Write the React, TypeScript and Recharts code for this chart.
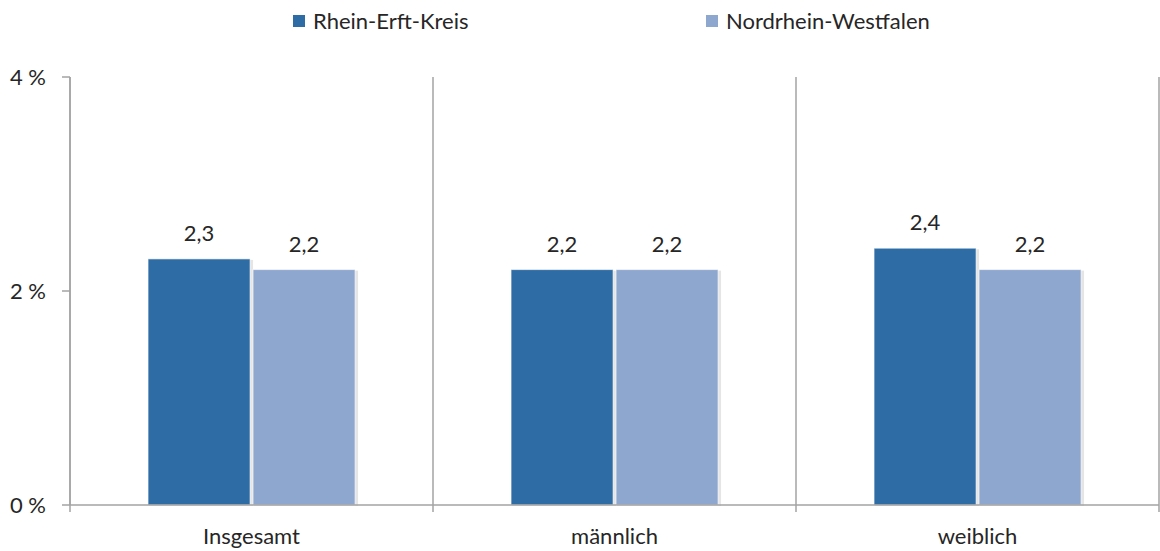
import React from "react";
import {
  Bar,
  BarChart,
  CartesianGrid,
  LabelList,
  XAxis,
  YAxis,
} from "recharts";

const categories = ["Insgesamt", "männlich", "weiblich"];
const rheinErft = [2.3, 2.2, 2.4];
const nrw = [2.2, 2.2, 2.2];
const yTicks = [0, 2, 4];
const legendItems = ["Rhein-Erft-Kreis", "Nordrhein-Westfalen"];

const DARK = "#2E6CA5";
const LIGHT = "#8EA7CF";
const AXIS = "#A3A3A3";
const TEXT = "#262626";
const FONT = "Lato, 'Open Sans', sans-serif";
const FS = 22;

const data = categories.map((name, i) => ({
  name,
  rek: rheinErft[i],
  nrw: nrw[i],
}));

const fmt = (v: number) => v.toFixed(1).replace(".", ",");

function ShadowBar(props: any) {
  const { x, y, width, height, fill } = props;
  if (!height || height <= 0) return null;
  return (
    <g>
      <rect x={x + 1} y={y + 1} width={width + 2} height={height} fill="#000" opacity={0.1} />
      <rect x={x} y={y} width={width} height={height} fill={fill} stroke="#ffffff" strokeOpacity={0.6} strokeWidth={1} />
    </g>
  );
}

// category label plus the small tick marks below the axis at band edges
function CategoryTick(props: any) {
  const { x, y, payload, index, visibleTicksCount } = props;
  const half = payload.offset ?? 0;
  const isLast = index === visibleTicksCount - 1;
  return (
    <g>
      <line x1={x - half} x2={x - half} y1={y} y2={y + 7} stroke={AXIS} strokeWidth={1.5} />
      {isLast && (
        <line x1={x + half} x2={x + half} y1={y} y2={y + 7} stroke={AXIS} strokeWidth={1.5} />
      )}
      <text x={x} y={y + 39} textAnchor="middle" fill={TEXT} fontSize={FS} fontFamily={FONT}>
        {payload.value}
      </text>
    </g>
  );
}

export default function App() {
  const colors = [DARK, LIGHT];
  return (
    <div style={{ position: "absolute", left: 0, top: 0, width: 1160, height: 551, background: "#fff" }}>
      <div
        style={{
          position: "absolute",
          top: 6,
          left: 293,
          display: "flex",
          fontFamily: FONT,
          fontSize: FS,
          color: TEXT,
          lineHeight: "30px",
        }}
      >
        {legendItems.map((label, i) => (
          <div key={label} style={{ display: "flex", alignItems: "center", width: i === 0 ? 413 : "auto" }}>
            <span
              style={{
                display: "inline-block",
                width: 12,
                height: 12,
                background: colors[i],
                marginRight: 8,
              }}
            />
            {label}
          </div>
        ))}
      </div>
      <BarChart
        width={1160}
        height={551}
        data={data}
        margin={{ top: 77, right: 1, bottom: 0, left: 0 }}
        barCategoryGap="21.5%"
        barGap={3}
        style={{ fontFamily: FONT }}
      >
        <CartesianGrid
          horizontal={false}
          stroke={AXIS}
          strokeWidth={1.5}
          verticalCoordinatesGenerator={({ offset }: any) =>
            [0, 1, 2, 3].map((i) => offset.left + (i * offset.width) / categories.length)
          }
        />
        <XAxis
          dataKey="name"
          height={46}
          axisLine={{ stroke: AXIS, strokeWidth: 1.5 }}
          tickLine={false}
          tickSize={0}
          tickMargin={0}
          tick={<CategoryTick />}
        />
        <YAxis
          domain={[0, 4]}
          ticks={yTicks}
          width={70}
          tickSize={8}
          tickMargin={16}
          tickFormatter={(v) => `${v} %`}
          tick={{ fill: TEXT, fontSize: FS }}
          axisLine={{ stroke: AXIS, strokeWidth: 1.5 }}
          tickLine={{ stroke: AXIS, strokeWidth: 1.5 }}
        />
        <Bar dataKey="rek" fill={DARK} shape={<ShadowBar />} isAnimationActive={false}>
          <LabelList
            dataKey="rek"
            position="top"
            offset={18}
            formatter={(v: any) => fmt(Number(v))}
            style={{ fill: TEXT, fontSize: FS }}
          />
        </Bar>
        <Bar dataKey="nrw" fill={LIGHT} shape={<ShadowBar />} isAnimationActive={false}>
          <LabelList
            dataKey="nrw"
            position="top"
            offset={18}
            formatter={(v: any) => fmt(Number(v))}
            style={{ fill: TEXT, fontSize: FS }}
          />
        </Bar>
      </BarChart>
    </div>
  );
}
